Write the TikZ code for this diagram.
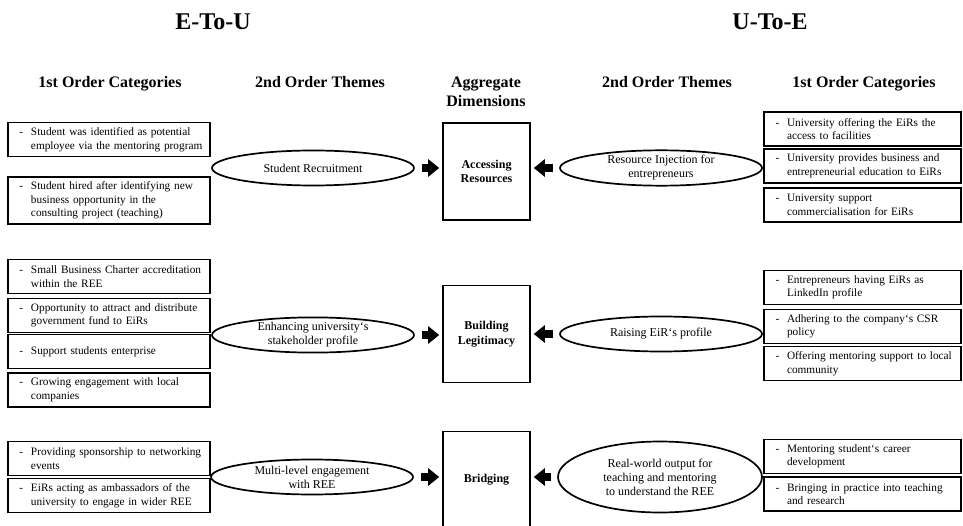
\documentclass[tikz,border=0pt]{standalone}
\usepackage{fontspec}
\setmainfont{Liberation Serif}
\usetikzlibrary{shapes.geometric,arrows.meta}
\newcommand{\dashitem}[1]{\hangindent=17pt\hangafter=1\noindent\makebox[17pt][l]{\hspace{5.5pt}-}#1\par}
\begin{document}
\begin{tikzpicture}[x=1pt,y=-1pt,
  catbox/.style={draw,line width=1.7pt,inner xsep=6pt,inner ysep=5pt,minimum height=34pt,align=left,font=\fontsize{11.3}{13.5}\selectfont},
  leftcat/.style={catbox,text width=190pt},
  rightcat/.style={catbox,text width=185pt},
  theme/.style={draw,ellipse,line width=1.7pt,inner sep=0pt,minimum width=202pt,minimum height=35pt,align=center,font=\fontsize{12}{14}\selectfont},
  dimbox/.style={draw,line width=1.6pt,minimum width=87pt,minimum height=97pt,align=center,font=\bfseries\fontsize{12}{14.5}\selectfont},
  flow/.style={line width=8pt,-{Triangle[length=11pt,width=17pt]}},
  heading/.style={font=\bfseries\fontsize{16}{19}\selectfont,align=center},
  side/.style={font=\bfseries\fontsize{24}{28}\selectfont}]
\path[use as bounding box] (0,0) rectangle (963,526);
\node[side] (eu) at (213,22) {E-To-U};
\node[side] (ue) at (770,22) {U-To-E};
\node[heading,anchor=base] (hl1) at (110,88) {1st Order Categories};
\node[heading,anchor=base] (hl2) at (320,88) {2nd Order Themes};
\node[heading] (hagg) at (486,91.5) {Aggregate\\Dimensions};
\node[heading,anchor=base] (hr2) at (667,88) {2nd Order Themes};
\node[heading,anchor=base] (hr1) at (864,88) {1st Order Categories};
\node[dimbox] (ad1) at (486.5,171.5) {Accessing\\Resources};
\node[dimbox] (ad2) at (486.5,334) {Building\\Legitimacy};
\node[dimbox] (ad3) at (486.5,480) {Bridging};
\node[theme] (lt1) at (313,168) {Student Recruitment};
\node[theme] (lt2) at (313,335) {Enhancing university‘s\\stakeholder profile};
\node[theme] (lt3) at (312,477) {Multi-level engagement\\with REE};
\node[theme] (rt1) at (661,168) {Resource Injection for\\entrepreneurs};
\node[theme] (rt2) at (661,334) {Raising EiR‘s profile};
\node[theme,minimum width=204pt,minimum height=71pt] (rt3) at (660,477) {Real-world output for\\teaching and mentoring\\to understand the REE};
\node[leftcat] (lc11) at (109,139.5) {\dashitem{Student was identified as potential\newline employee via the mentoring program}};
\node[leftcat] (lc12) at (109,200.5) {\dashitem{Student hired after identifying new\newline business opportunity in the\newline consulting project (teaching)}};
\node[leftcat] (lc21) at (109,276.5) {\dashitem{Small Business Charter accreditation\newline within the REE}};
\node[leftcat] (lc22) at (109,315.5) {\dashitem{Opportunity to attract and distribute\newline government fund to EiRs}};
\node[leftcat] (lc23) at (109,351.5) {\dashitem{Support students enterprise}};
\node[leftcat] (lc24) at (109,390) {\dashitem{Growing engagement with local\newline companies}};
\node[leftcat] (lc31) at (109,458.5) {\dashitem{Providing sponsorship to networking\newline events}};
\node[leftcat] (lc32) at (109,495.5) {\dashitem{EiRs acting as ambassadors of the\newline university to engage in wider REE}};
\node[rightcat] (rc11) at (862.5,129) {\dashitem{University offering the EiRs the\newline access to facilities}};
\node[rightcat] (rc12) at (862.5,166) {\dashitem{University provides business and\newline entrepreneurial education to EiRs}};
\node[rightcat] (rc13) at (862.5,205) {\dashitem{University support\newline commercialisation for EiRs}};
\node[rightcat] (rc21) at (862.5,287.5) {\dashitem{Entrepreneurs having EiRs as\newline LinkedIn profile}};
\node[rightcat] (rc22) at (862.5,326.5) {\dashitem{Adhering to the company‘s CSR\newline policy}};
\node[rightcat] (rc23) at (862.5,363.5) {\dashitem{Offering mentoring support to local\newline community}};
\node[rightcat] (rc31) at (862.5,456.5) {\dashitem{Mentoring student‘s career\newline development}};
\node[rightcat] (rc32) at (862.5,494) {\dashitem{Bringing in practice into teaching\newline and research}};
\draw[flow] ([xshift=7pt]lt1.east) -- ([xshift=-3pt]lt1.east -| ad1.west);
\draw[flow] ([xshift=7pt]lt2.east) -- ([xshift=-3pt]lt2.east -| ad2.west);
\draw[flow] ([xshift=7pt]lt3.east) -- ([xshift=-3pt]lt3.east -| ad3.west);
\draw[flow] ([xshift=-6pt]rt1.west) -- ([xshift=3pt]rt1.west -| ad1.east);
\draw[flow] ([xshift=-6pt]rt2.west) -- ([xshift=3pt]rt2.west -| ad2.east);
\draw[flow] ([xshift=-6pt]rt3.west) -- ([xshift=3pt]rt3.west -| ad3.east);
\end{tikzpicture}
\end{document}
